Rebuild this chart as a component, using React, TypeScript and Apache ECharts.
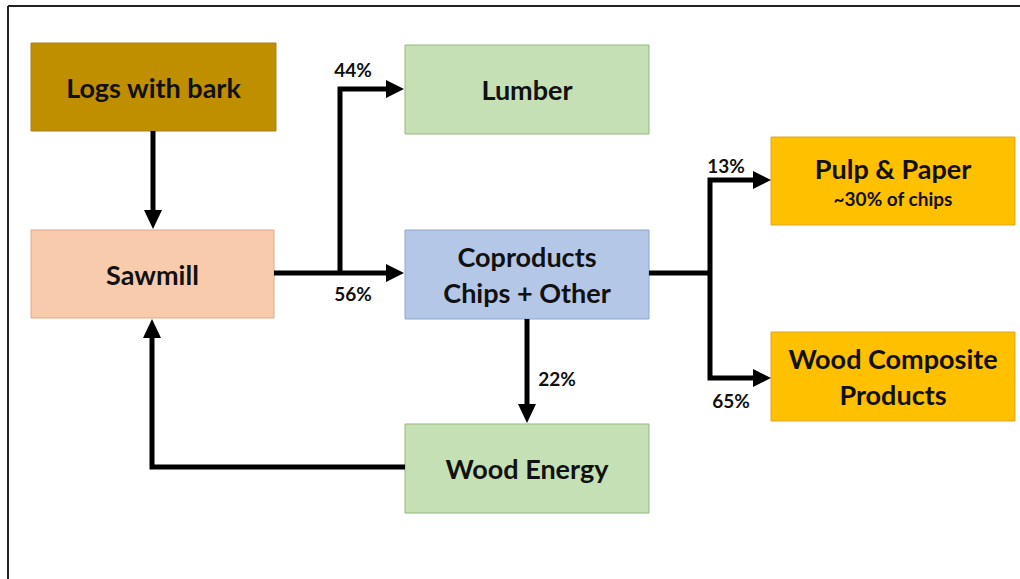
import React, { useEffect, useRef } from "react";
import * as echarts from "echarts";

// ---- Data ----
const nodeNames = ["Logs with bark", "Sawmill", "Lumber", "Coproducts\nChips + Other", "Wood Energy", "Pulp & Paper", "Wood Composite\nProducts"];
const nodeSubtitles = ["", "", "", "", "", "~30% of chips", ""];
const flowFrom = ["Sawmill", "Sawmill", "Coproducts", "Coproducts", "Coproducts"];
const flowTo = ["Lumber", "Coproducts", "Wood Energy", "Pulp & Paper", "Wood Composite"];
const flowPercents = [44, 56, 22, 13, 65];

// ---- Layout (separate from data) ----
const boxes = [
  { x: 31, y: 43, w: 245, h: 88, fill: "#BF8F00", stroke: "#A8811A" },
  { x: 31, y: 230, w: 243, h: 88, fill: "#F8CBAD", stroke: "#E0AA88" },
  { x: 405, y: 45, w: 244, h: 89, fill: "#C5E0B4", stroke: "#93B880" },
  { x: 405, y: 230, w: 244, h: 89, fill: "#B4C7E7", stroke: "#8FA6CC" },
  { x: 405, y: 424, w: 244, h: 89, fill: "#C5E0B4", stroke: "#93B880" },
  { x: 771, y: 137, w: 244, h: 88, fill: "#FFC000", stroke: "#D9A630" },
  { x: 771, y: 332, w: 244, h: 89, fill: "#FFC000", stroke: "#D9A630" },
];
const labelPos = [
  [353, 69],
  [353, 293],
  [557, 378],
  [726, 165],
  [731, 400],
];

const FONT = "Lato, 'Open Sans', sans-serif";

export default function App() {
  const ref = useRef<HTMLDivElement>(null);
  useEffect(() => {
    if (!ref.current) return;
    const chart = echarts.init(ref.current, null, { renderer: "svg" });
    const els: any[] = [];
    // frame
    els.push({ type: "line", shape: { x1: 8, y1: 6, x2: 1020, y2: 6 }, style: { stroke: "#222", lineWidth: 2 } });
    els.push({ type: "line", shape: { x1: 8, y1: 6, x2: 8, y2: 579 }, style: { stroke: "#222", lineWidth: 2 } });

    boxes.forEach((b, i) => {
      els.push({
        type: "rect",
        shape: { x: b.x, y: b.y, width: b.w, height: b.h },
        style: { fill: b.fill, stroke: b.stroke, lineWidth: 1 },
      });
      const cx = b.x + b.w / 2;
      const cy = b.y + b.h / 2;
      const sub = nodeSubtitles[i];
      if (sub) {
        els.push({
          type: "text",
          x: cx, y: cy - 13,
          style: { text: nodeNames[i], font: `bold 27px ${FONT}`, fill: "#111", align: "center", verticalAlign: "middle" },
        });
        els.push({
          type: "text",
          x: cx, y: cy + 17,
          style: { text: sub, font: `bold 19px ${FONT}`, fill: "#111", align: "center", verticalAlign: "middle" },
        });
      } else {
        els.push({
          type: "text",
          x: cx, y: cy,
          style: { text: nodeNames[i], font: `bold 27px ${FONT}`, fill: "#111", align: "center", verticalAlign: "middle", lineHeight: 36 },
        });
      }
    });

    const lineStyle = { stroke: "#000", lineWidth: 5, fill: null, lineJoin: "miter", lineCap: "butt" };
    const polys: number[][][] = [
      [[153, 131], [153, 212]],
      [[274, 273], [388, 273]],
      [[340, 275], [340, 89], [388, 89]],
      [[527, 319], [527, 406]],
      [[649, 273], [710, 273]],
      [[754, 180], [710, 180], [710, 378], [754, 378]],
      [[405, 467], [152, 467], [152, 336]],
    ];
    polys.forEach((p) => els.push({ type: "polyline", shape: { points: p }, style: lineStyle }));
    const heads: number[][][] = [
      [[144, 210], [162, 210], [153, 229]],
      [[386, 264], [386, 282], [404, 273]],
      [[386, 80], [386, 98], [404, 89]],
      [[518, 404], [536, 404], [527, 423]],
      [[753, 171], [753, 189], [771, 180]],
      [[753, 369], [753, 387], [771, 378]],
      [[143, 338], [161, 338], [152, 319]],
    ];
    heads.forEach((h) => els.push({ type: "polygon", shape: { points: h }, style: { fill: "#000" } }));

    flowPercents.forEach((v, i) => {
      els.push({
        type: "text",
        x: labelPos[i][0], y: labelPos[i][1],
        style: { text: `${v}%`, font: `bold 19px ${FONT}`, fill: "#111", align: "center", verticalAlign: "middle" },
      });
    });

    chart.setOption({ animation: false, backgroundColor: "#fff", graphic: { elements: els } });
    return () => chart.dispose();
  }, []);
  return <div ref={ref} style={{ position: "fixed", left: 0, top: 0, width: 1020, height: 579 }} />;
}
